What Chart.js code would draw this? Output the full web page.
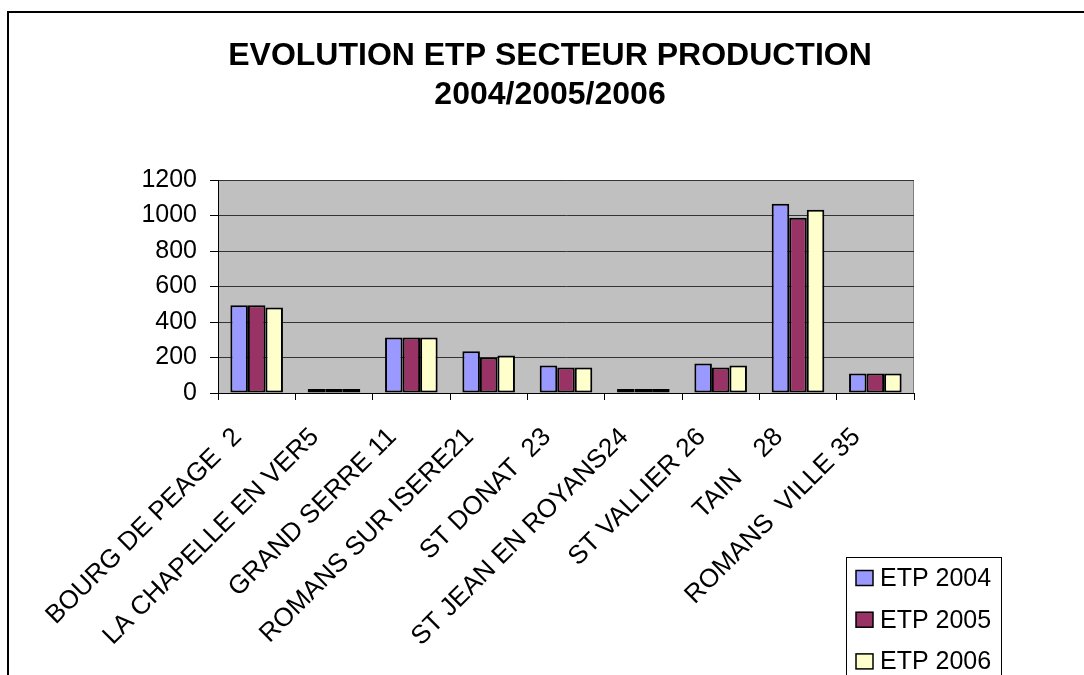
<!DOCTYPE html>
<html>
<head>
<meta charset="utf-8">
<script src="https://cdn.jsdelivr.net/npm/chart.js@4/dist/chart.umd.min.js"></script>
<style>
  html, body { margin: 0; padding: 0; background: #fff; }
  canvas { display: block; }
</style>
</head>
<body>
<canvas id="myChart" width="1084" height="675"></canvas>
<script>
var secteurs = ['BOURG DE PEAGE  2', 'LA CHAPELLE EN VER5', 'GRAND SERRE 11', 'ROMANS SUR ISERE21',
    'ST DONAT  23', 'ST JEAN EN ROYANS24', 'ST VALLIER 26', 'TAIN    28', 'ROMANS  VILLE 35']
var etp2004 = [495, 22, 313, 235, 155, 22, 166, 1066, 110]
var etp2005 = [495, 22, 313, 200, 143, 22, 143, 988, 110]
var etp2006 = [482, 22, 313, 211, 143, 22, 155, 1033, 110]
var titre = ['EVOLUTION ETP SECTEUR PRODUCTION', '2004/2005/2006']
var police = '"Liberation Sans", Arial, sans-serif'

// cadre, fond gris du graphique, titre
var decor = {
    id: 'decor',
    beforeDraw(chart) {
        let ctx = chart.ctx, a = chart.chartArea
        ctx.save()
        ctx.fillStyle = '#ffffff'
        ctx.fillRect(0, 0, chart.width, chart.height)
        ctx.fillStyle = '#c0c0c0'
        ctx.fillRect(a.left, a.top, a.right - a.left, a.bottom - a.top)
        ctx.strokeStyle = '#808080'
        ctx.lineWidth = 1
        ctx.beginPath()
        ctx.moveTo(a.left, a.top + 0.5)
        ctx.lineTo(a.right - 0.5, a.top + 0.5)
        ctx.lineTo(a.right - 0.5, a.bottom)
        ctx.stroke()
        ctx.restore()
    },
    afterDraw(chart) {
        let ctx = chart.ctx
        ctx.save()
        // cadre exterieur
        ctx.strokeStyle = '#000'
        ctx.lineWidth = 2
        ctx.strokeRect(8, 12, 1100, 700)
        // titre
        ctx.fillStyle = '#000'
        ctx.font = 'bold 32px ' + police
        ctx.textAlign = 'center'
        ctx.textBaseline = 'middle'
        ctx.fillText(titre[0], 550, 56)
        ctx.fillText(titre[1], 550, 95)
        // legende
        ctx.fillStyle = '#fff'
        ctx.fillRect(846, 557, 155, 140)
        ctx.lineWidth = 1
        ctx.strokeStyle = '#000'
        ctx.strokeRect(846.5, 557.5, 155, 140)
        ctx.font = '25px ' + police
        ctx.textAlign = 'left'
        chart.data.datasets.forEach((ds, i) => {
            let y = 578 + i * 41.7
            ctx.fillStyle = ds.backgroundColor
            ctx.fillRect(856, y - 7.5, 17, 15)
            ctx.lineWidth = 1.5
            ctx.strokeRect(856, y - 7.5, 17, 15)
            ctx.fillStyle = '#000'
            ctx.fillText(ds.label, 880, y + 1)
        })
        ctx.restore()
    }
}

let ctx = document.getElementById('myChart').getContext('2d')
let myChart = new Chart(ctx, {
    type: 'bar',
    data: {
        labels: secteurs,
        datasets: [
            { label: 'ETP 2004', data: etp2004, backgroundColor: '#9999ff' },
            { label: 'ETP 2005', data: etp2005, backgroundColor: '#993366' },
            { label: 'ETP 2006', data: etp2006, backgroundColor: '#ffffcc' }
        ]
    },
    options: {
        responsive: false,
        animation: false,
        layout: { padding: { top: 180, right: 170, left: 0, bottom: 0 } },
        datasets: {
            bar: {
                borderColor: '#000',
                borderWidth: 2,
                borderSkipped: false,
                categoryPercentage: 0.68,
                barPercentage: 1.0
            }
        },
        plugins: {
            legend: { display: false },
            title: { display: false },
            tooltip: { enabled: false }
        },
        scales: {
            x: {
                afterFit(scale) { scale.height = 282 },
                border: { color: '#000', width: 1 },
                grid: { display: true, drawOnChartArea: false, drawTicks: true, tickLength: 7, color: '#000', offset: true },
                ticks: {
                    autoSkip: false,
                    minRotation: 45,
                    maxRotation: 45,
                    color: '#000',
                    font: { family: police, size: 26 },
                    padding: 22,
                    labelOffset: -19
                }
            },
            y: {
                min: 0,
                max: 1200,
                afterFit(scale) { scale.width = 218 },
                border: { color: '#000', width: 1 },
                grid: { color: '#333333', tickLength: 8, tickColor: '#000' },
                ticks: {
                    stepSize: 200,
                    color: '#000',
                    padding: 13,
                    font: { family: police, size: 25 },
                    callback: (v) => String(v)
                }
            }
        }
    },
    plugins: [decor]
})
</script>
</body>
</html>
